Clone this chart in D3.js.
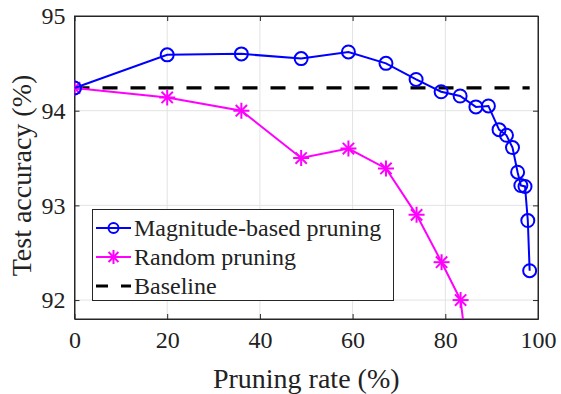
<!DOCTYPE html>
<html><head><meta charset="utf-8">
<script src="https://cdn.jsdelivr.net/npm/d3@7"></script>
</head><body style="margin:0"><svg id="c" width="561" height="394"></svg>
<script>
const magRate = [0, 20, 36, 48.9, 59.1, 67.2, 73.7, 79.1, 83.2, 86.6, 89.3, 91.6, 93.2, 94.5, 95.6, 96.3, 97.2, 97.8, 98.2];
const magAcc  = [94.24, 94.59, 94.60, 94.55, 94.62, 94.50, 94.33, 94.20, 94.155, 94.04, 94.05, 93.80, 93.74, 93.61, 93.35, 93.21, 93.20, 92.84, 92.31];
const randRate = [0, 20, 36, 48.9, 59.1, 67.2, 73.8, 79.2, 83.3, 85.8];
const randAcc  = [94.24, 94.14, 94.00, 93.50, 93.60, 93.39, 92.90, 92.40, 92.00, 91.00];
const baselineAcc = 94.24;
const xTicks = [0, 20, 40, 60, 80, 100];
const yTicks = [92, 93, 94, 95];
const legendLabels = ["Magnitude-based pruning", "Random pruning", "Baseline"];

const FONT = "Times New Roman";
const svg = d3.select("#c");
const L = 74.5, R = 538, T = 16, B = 319;
const x = d3.scaleLinear().domain([0, 100]).range([L, R]);
const y = d3.scaleLinear().domain([91.8, 95]).range([B, T]);

function serif(sel, size) {
  sel.attr("font-family", FONT).style("font-family", FONT, "important")
     .attr("font-size", size).style("font-size", size + "px").attr("fill", "#222");
}

svg.append("defs").append("clipPath").attr("id","clip").append("rect")
  .attr("x", L).attr("y", T).attr("width", R-L).attr("height", B-T);

const g = svg.append("g");
g.selectAll(".gx").data(xTicks.slice(1,-1)).join("line")
  .attr("x1", d=>x(d)).attr("x2", d=>x(d)).attr("y1", T).attr("y2", B)
  .attr("stroke", "#e3e3e3").attr("stroke-width", 1);
g.selectAll(".gy").data(yTicks.slice(0,-1)).join("line")
  .attr("y1", d=>y(d)).attr("y2", d=>y(d)).attr("x1", L).attr("x2", R)
  .attr("stroke", "#e3e3e3").attr("stroke-width", 1);

const tk = 5;
const axB = svg.append("g").attr("transform", `translate(0,${B})`)
  .call(d3.axisBottom(x).tickValues(xTicks).tickSizeInner(-tk).tickSizeOuter(0).tickPadding(12).tickFormat(d3.format("d")));
const axT = svg.append("g").attr("transform", `translate(0,${T})`)
  .call(d3.axisTop(x).tickValues(xTicks).tickSizeInner(-tk).tickSizeOuter(0).tickFormat(""));
const axL = svg.append("g").attr("transform", `translate(${L},0)`)
  .call(d3.axisLeft(y).tickValues(yTicks).tickSizeInner(-tk).tickSizeOuter(0).tickPadding(9).tickFormat(d3.format("d")));
const axR = svg.append("g").attr("transform", `translate(${R},0)`)
  .call(d3.axisRight(y).tickValues(yTicks).tickSizeInner(-tk).tickSizeOuter(0).tickFormat(""));
[axB, axT, axL, axR].forEach(a => {
  a.attr("font-family", FONT);
  a.select(".domain").attr("stroke", "#262626").attr("stroke-width", 1);
  a.selectAll(".tick line").attr("stroke", "#262626");
  serif(a.selectAll("text"), 24);
});
svg.append("rect").attr("x", L).attr("y", T).attr("width", R-L).attr("height", B-T)
  .attr("fill", "none").attr("stroke", "#262626").attr("stroke-width", 1);

svg.append("text").attr("x", (L+R)/2).attr("y", 388).attr("text-anchor", "middle")
  .call(serif, 28).text("Pruning rate (%)");
svg.append("text").attr("transform", `translate(31,${(T+B)/2 + 8}) rotate(-90)`).attr("text-anchor", "middle")
  .call(serif, 28).text("Test accuracy (%)");

const plot = svg.append("g").attr("clip-path", "url(#clip)");
const line = d3.line().x(d=>x(d[0])).y(d=>y(d[1]));

plot.append("path").datum([[0, baselineAcc], [d3.max(magRate), baselineAcc]])
  .attr("d", line).attr("stroke", "#000").attr("stroke-width", 3.2)
  .attr("stroke-dasharray", "15,13").attr("fill", "none");

const mag = magRate.map((r,i)=>[r, magAcc[i]]);
const rnd = randRate.map((r,i)=>[r, randAcc[i]]);

function star(sel, cx, cy, r, color) {
  const gg = sel.append("g").attr("stroke", color).attr("stroke-width", 2);
  const a = r*0.707;
  [[0,-r,0,r],[-r,0,r,0],[-a,-a,a,a],[-a,a,a,-a]].forEach(s =>
    gg.append("line").attr("x1", cx+s[0]).attr("y1", cy+s[1]).attr("x2", cx+s[2]).attr("y2", cy+s[3]));
}

plot.append("path").datum(rnd).attr("d", line).attr("stroke", "#ff00ff").attr("stroke-width", 2).attr("fill", "none");
rnd.forEach(d => star(plot, x(d[0]), y(d[1]), 8, "#ff00ff"));

plot.append("path").datum(mag).attr("d", line).attr("stroke", "#0000ff").attr("stroke-width", 2).attr("fill", "none");
plot.selectAll(".m").data(mag).join("circle")
  .attr("cx", d=>x(d[0])).attr("cy", d=>y(d[1])).attr("r", 6.5)
  .attr("fill", "none").attr("stroke", "#0000ff").attr("stroke-width", 2);

const lg = svg.append("g");
lg.append("rect").attr("x", 92.5).attr("y", 209.5).attr("width", 301).attr("height", 91)
  .attr("fill", "#fff").attr("stroke", "#262626").attr("stroke-width", 1);
const rows = [228, 257, 286];
lg.append("line").attr("x1", 96).attr("x2", 131).attr("y1", rows[0]).attr("y2", rows[0]).attr("stroke", "#0000ff").attr("stroke-width", 2);
lg.append("circle").attr("cx", 113.5).attr("cy", rows[0]).attr("r", 5).attr("fill", "none").attr("stroke", "#0000ff").attr("stroke-width", 2);
lg.append("line").attr("x1", 96).attr("x2", 131).attr("y1", rows[1]).attr("y2", rows[1]).attr("stroke", "#ff00ff").attr("stroke-width", 2);
star(lg, 113.5, rows[1], 7, "#ff00ff");
lg.append("line").attr("x1", 96).attr("x2", 131).attr("y1", rows[2]).attr("y2", rows[2]).attr("stroke", "#000").attr("stroke-width", 3.2).attr("stroke-dasharray", "12,13");
legendLabels.forEach((t,i) => lg.append("text").attr("x", 134).attr("y", rows[i]+7.5)
  .call(serif, 24).text(t));
</script></body></html>
